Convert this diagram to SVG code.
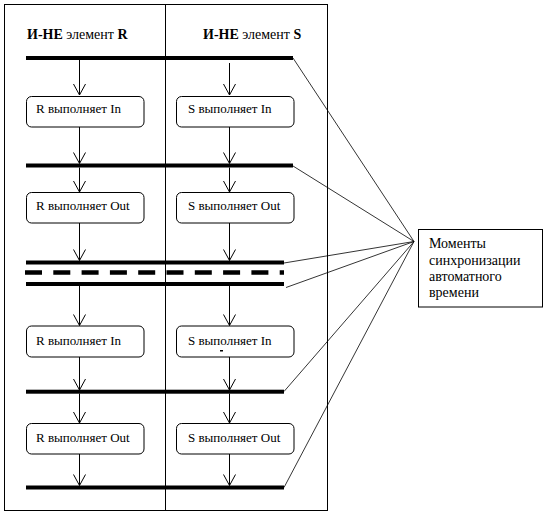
<svg xmlns="http://www.w3.org/2000/svg" width="549" height="516" viewBox="0 0 549 516">
<style>
.frame{fill:none;stroke:#000;stroke-width:1}
.bar{fill:#000}
.box{fill:#fff;stroke:#000;stroke-width:1}
.t{font-family:"Liberation Serif","Times New Roman",serif;font-size:13px;fill:#000}
.title{font-family:"Liberation Serif","Times New Roman",serif;font-size:14px;fill:#000}
.b{font-weight:bold}
.note{font-family:"Liberation Serif","Times New Roman",serif;font-size:14px;fill:#000}
.flow{stroke:#000;stroke-width:1;fill:none;marker-end:url(#v)}
.lead{stroke:#000;stroke-width:0.8;fill:none}
</style>
<defs>
<marker id="v" markerUnits="userSpaceOnUse" viewBox="-12 -7 14 14" markerWidth="14" markerHeight="14" refX="0" refY="0" orient="auto" overflow="visible">
<path d="M-11,-6 L0,0 L-11,6" fill="none" stroke="#000" stroke-width="1"/>
</marker>
</defs>
<rect x="0" y="0" width="549" height="516" fill="#fff"/>
<g id="swimlanes">
<rect class="frame" x="4.5" y="4.5" width="323" height="506"/>
<line x1="165.5" y1="4.5" x2="165.5" y2="510.5" stroke="#000" stroke-width="1"/>
<text class="title" x="27" y="39"><tspan class="b">И-НЕ</tspan> элемент <tspan class="b">R</tspan></text>
<text class="title" x="203" y="39"><tspan class="b">И-НЕ</tspan> элемент <tspan class="b">S</tspan></text>
</g>
<g id="sync-bars">
<rect class="bar" x="26" y="56" width="267" height="4"/>
<rect class="bar" x="26" y="163.5" width="267" height="4"/>
<rect class="bar" x="26" y="260.5" width="258" height="4"/>
<line x1="25" y1="272.5" x2="284" y2="272.5" stroke="#000" stroke-width="4.5" stroke-dasharray="17 11.3"/>
<rect class="bar" x="26" y="282" width="258" height="4"/>
<rect class="bar" x="26" y="389.7" width="258" height="4"/>
<rect class="bar" x="26" y="485.5" width="258" height="4"/>
</g>
<g id="connectors">
<line class="flow" x1="79.5" y1="60" x2="79.5" y2="95"/>
<line class="flow" x1="229.5" y1="63" x2="229.5" y2="95"/>
<line class="flow" x1="79.5" y1="127" x2="79.5" y2="163.5"/>
<line class="flow" x1="229.5" y1="127" x2="229.5" y2="163.5"/>
<line class="flow" x1="79.5" y1="167.5" x2="79.5" y2="192"/>
<line class="flow" x1="229.5" y1="167.5" x2="229.5" y2="192"/>
<line class="flow" x1="79.5" y1="223" x2="79.5" y2="260.5"/>
<line class="flow" x1="229.5" y1="223" x2="229.5" y2="260.5"/>
<line class="flow" x1="79.5" y1="286" x2="79.5" y2="325.5"/>
<line class="flow" x1="229.5" y1="286" x2="229.5" y2="325.5"/>
<line class="flow" x1="79.5" y1="357" x2="79.5" y2="390"/>
<line class="flow" x1="229.5" y1="357" x2="229.5" y2="390"/>
<line class="flow" x1="79.5" y1="393.5" x2="79.5" y2="423"/>
<line class="flow" x1="229.5" y1="393.5" x2="229.5" y2="423"/>
<line class="flow" x1="79.5" y1="454" x2="79.5" y2="485.5"/>
<line class="flow" x1="229.5" y1="454" x2="229.5" y2="485.5"/>
<line class="lead" x1="293" y1="58" x2="414" y2="241.5"/>
<line class="lead" x1="293" y1="166" x2="414" y2="241.5"/>
<line class="lead" x1="284" y1="263" x2="414" y2="241.5"/>
<line class="lead" x1="286" y1="287.5" x2="414" y2="241.5"/>
<line class="lead" x1="284" y1="391.5" x2="414" y2="241.5"/>
<line class="lead" x1="284" y1="487.5" x2="414" y2="241.5"/>
</g>
<g id="r-in-1"><rect class="box" x="26.5" y="96.5" width="117.5" height="30.5" rx="5"/><text class="t" x="36" y="113">R выполняет In</text></g>
<g id="s-in-1"><rect class="box" x="176.5" y="96.5" width="117.5" height="30.5" rx="5"/><text class="t" x="188" y="113">S выполняет In</text></g>
<g id="r-out-1"><rect class="box" x="26.5" y="192.5" width="117.5" height="30.5" rx="5"/><text class="t" x="36" y="209.5">R выполняет Out</text></g>
<g id="s-out-1"><rect class="box" x="176.5" y="192.5" width="117.5" height="30.5" rx="5"/><text class="t" x="188" y="209.5">S выполняет Out</text></g>
<g id="r-in-2"><rect class="box" x="26.5" y="326" width="117.5" height="31" rx="5"/><text class="t" x="36" y="345">R выполняет In</text></g>
<g id="s-in-2"><rect class="box" x="176.5" y="326" width="117.5" height="31" rx="5"/><text class="t" x="188" y="345">S выполняет In</text><rect x="220" y="350" width="3" height="1.5" fill="#000"/></g>
<g id="r-out-2"><rect class="box" x="26.5" y="423.5" width="117.5" height="30.5" rx="5"/><text class="t" x="36" y="441.5">R выполняет Out</text></g>
<g id="s-out-2"><rect class="box" x="176.5" y="423.5" width="117.5" height="30.5" rx="5"/><text class="t" x="188" y="441.5">S выполняет Out</text></g>
<g id="note">
<rect class="frame" x="418.5" y="229.5" width="124" height="77.5"/>
<text class="note" x="429" y="248">Моменты</text>
<text class="note" x="429" y="264.5">синхронизации</text>
<text class="note" x="429" y="280.5">автоматного</text>
<text class="note" x="429" y="296.5">времени</text>
</g>
</svg>
